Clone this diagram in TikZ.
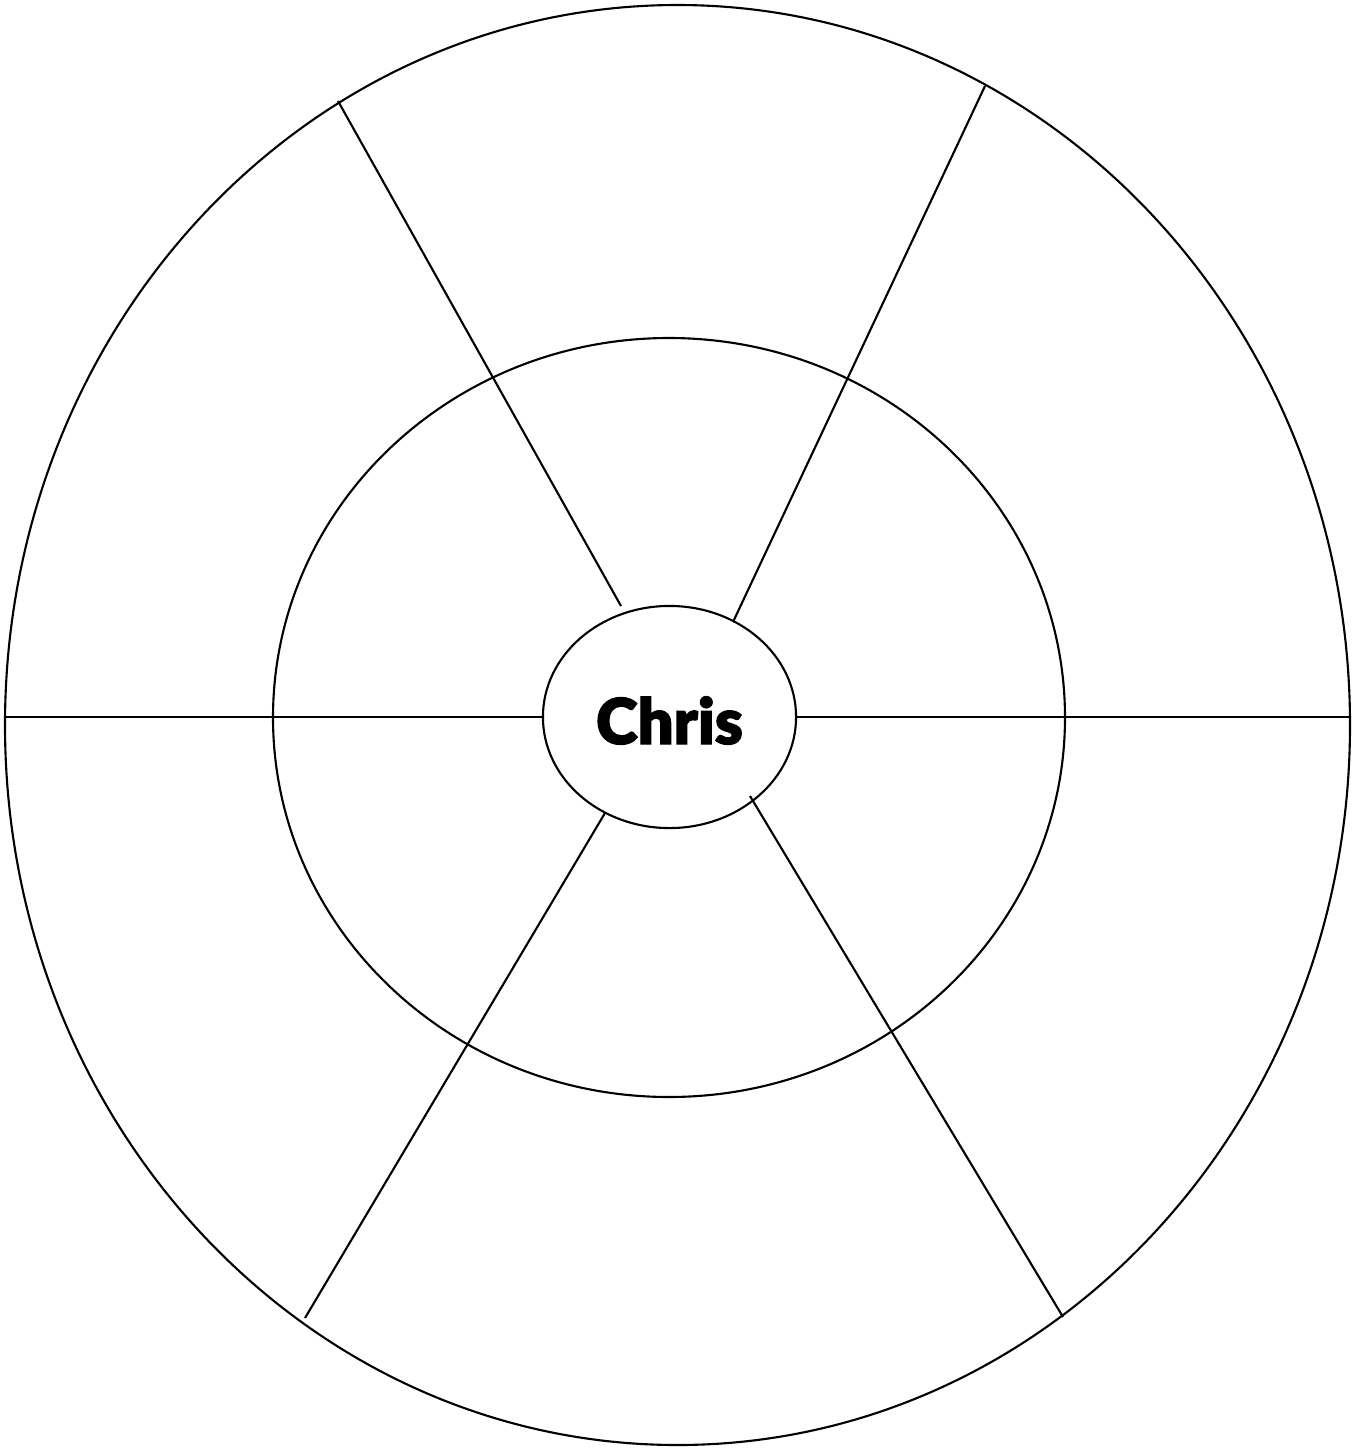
\documentclass[tikz,border=0pt]{standalone}
\usepackage{fontspec}
\newfontfamily\namefont{Lato}[UprightFont=* Black, FakeBold=2]
\usetikzlibrary{positioning,shapes}

\begin{document}
\begin{tikzpicture}[
  x=0.01cm, y=-0.01cm,
  ring/.style={draw=black, line width=0.6pt},
  spoke/.style={draw=black, line width=0.6pt},
  hub/.style={
    ellipse, draw=black, line width=0.6pt,
    minimum width=2.53cm, minimum height=2.22cm,
    inner sep=0pt, font=\namefont\fontsize{18}{20}\selectfont
  }
]
\useasboundingbox (0,0) rectangle (1367,1448);

% ─── Rings ──────────────────────────────────────────────────
\draw[ring] (677.5,725) ellipse [x radius=672.5, y radius=720];
\draw[ring] (669,717.5) ellipse [x radius=396, y radius=379.5];

\node[hub] (chris) at (669.5,717) {\raisebox{-0.27cm}[0pt][0pt]{Chris}};

% ─── Spoke ends ─────────────────────────────────────────────
\coordinate (nwo) at (338,101);
\coordinate (nwi) at (621,606);
\coordinate (neo) at (985,86);
\coordinate (nei) at (733,622);
\coordinate (swo) at (305,1318);
\coordinate (swi) at (605,813);
\coordinate (seo) at (1063,1317);
\coordinate (sei) at (750,796);
\coordinate (wo)  at (5,717);
\coordinate (eo)  at (1350,717);

% ─── Spokes ─────────────────────────────────────────────────
\draw[spoke] (nwo) -- (nwi);
\draw[spoke] (neo) -- (nei);
\draw[spoke] (swo) -- (swi);
\draw[spoke] (seo) -- (sei);
\draw[spoke] (wo) -- (chris.west);
\draw[spoke] (chris.east) -- (eo);

\end{tikzpicture}
\end{document}
